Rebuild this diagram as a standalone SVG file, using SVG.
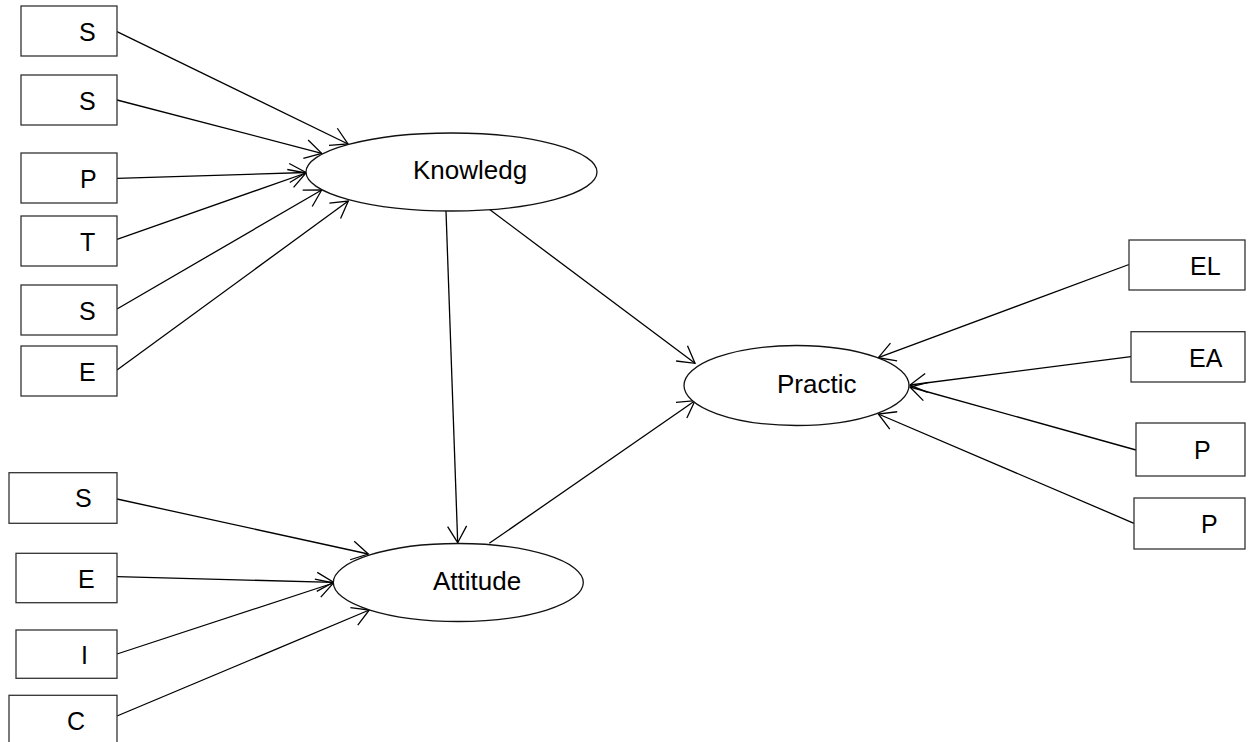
<svg xmlns="http://www.w3.org/2000/svg" width="1248" height="742" viewBox="0 0 1248 742">
  <style>
    .box { fill: #ffffff; stroke: #333333; stroke-width: 1.3; }
    .lat { fill: #ffffff; stroke: #111111; stroke-width: 1.3; }
    .lbl { font-family: "Liberation Sans", Arial, sans-serif; font-size: 25px; fill: #000000; }
    .big { font-family: "Liberation Sans", Arial, sans-serif; font-size: 26px; fill: #000000; }
    .edge { fill: none; stroke: #000000; stroke-width: 1.3; marker-end: url(#head); }
  </style>
  <defs>
    <marker id="head" markerUnits="userSpaceOnUse" markerWidth="40" markerHeight="40" viewBox="-20 -20 40 40" refX="0" refY="0" orient="auto" overflow="visible">
      <path d="M-16.5,-9.5 L0,0 L-16.5,9.5" fill="none" stroke="#000000" stroke-width="1.3"/>
    </marker>
  </defs>
  <rect width="1248" height="742" fill="#ffffff"/>

  <!-- paths between indicators and latent variables -->
  <g id="connectors">
    <line class="edge" x1="117" y1="31.7" x2="348" y2="144"/>
    <line class="edge" x1="117" y1="100" x2="321.7" y2="153.3"/>
    <line class="edge" x1="117" y1="178.3" x2="306" y2="172.5"/>
    <line class="edge" x1="117" y1="239.3" x2="306" y2="173"/>
    <line class="edge" x1="117" y1="309" x2="321.7" y2="190"/>
    <line class="edge" x1="117" y1="370" x2="348.3" y2="201"/>

    <line class="edge" x1="446" y1="211" x2="457.7" y2="542.7"/>
    <line class="edge" x1="489.3" y1="209.3" x2="695" y2="363.3"/>
    <line class="edge" x1="489.3" y1="543.3" x2="695" y2="400.7"/>

    <line class="edge" x1="1129" y1="264.5" x2="878.3" y2="357.7"/>
    <line class="edge" x1="1131" y1="356.7" x2="910" y2="385"/>
    <line class="edge" x1="1136" y1="450" x2="910" y2="387"/>
    <line class="edge" x1="1134" y1="523.3" x2="878.3" y2="414"/>

    <line class="edge" x1="117" y1="499" x2="368.3" y2="554"/>
    <line class="edge" x1="117" y1="576.7" x2="333.5" y2="582.3"/>
    <line class="edge" x1="117" y1="654" x2="333.5" y2="583"/>
    <line class="edge" x1="117" y1="716" x2="369.3" y2="610"/>
  </g>

  <!-- latent variables -->
  <g id="knowledge">
    <ellipse class="lat" cx="451.5" cy="172" rx="145.5" ry="39"/>
    <text class="big" x="413" y="178.5">Knowledg</text>
  </g>
  <g id="practice">
    <ellipse class="lat" cx="796.5" cy="385.5" rx="112.5" ry="40"/>
    <text class="big" x="777" y="393.3">Practic</text>
  </g>
  <g id="attitude">
    <ellipse class="lat" cx="458.3" cy="582.5" rx="125" ry="39"/>
    <text class="big" x="433" y="590">Attitude</text>
  </g>

  <!-- knowledge indicators -->
  <g id="k1"><rect class="box" x="21" y="6" width="96" height="50"/><text class="lbl" x="79" y="41">S</text></g>
  <g id="k2"><rect class="box" x="21" y="75" width="96" height="50"/><text class="lbl" x="79" y="110">S</text></g>
  <g id="k3"><rect class="box" x="21" y="153" width="96" height="50"/><text class="lbl" x="80" y="188">P</text></g>
  <g id="k4"><rect class="box" x="21" y="216" width="96" height="50"/><text class="lbl" x="80" y="251">T</text></g>
  <g id="k5"><rect class="box" x="21" y="285" width="96" height="50"/><text class="lbl" x="79" y="320">S</text></g>
  <g id="k6"><rect class="box" x="21" y="346" width="96" height="50"/><text class="lbl" x="79" y="381">E</text></g>

  <!-- attitude indicators -->
  <g id="a1"><rect class="box" x="9" y="472.7" width="108" height="50.6"/><text class="lbl" x="75" y="507">S</text></g>
  <g id="a2"><rect class="box" x="16" y="553.3" width="101" height="49.4"/><text class="lbl" x="78" y="588">E</text></g>
  <g id="a3"><rect class="box" x="16" y="630" width="101" height="48.3"/><text class="lbl" x="81" y="664">I</text></g>
  <g id="a4"><rect class="box" x="9" y="695.3" width="108" height="60"/><text class="lbl" x="67" y="730">C</text></g>

  <!-- practice indicators -->
  <g id="p1"><rect class="box" x="1129" y="240" width="116" height="50"/><text class="lbl" x="1190" y="275">EL</text></g>
  <g id="p2"><rect class="box" x="1131" y="331.7" width="114" height="50.3"/><text class="lbl" x="1189" y="366.7">EA</text></g>
  <g id="p3"><rect class="box" x="1136" y="423" width="109" height="53"/><text class="lbl" x="1194" y="459">P</text></g>
  <g id="p4"><rect class="box" x="1134" y="498" width="111" height="51"/><text class="lbl" x="1201" y="533">P</text></g>
</svg>
